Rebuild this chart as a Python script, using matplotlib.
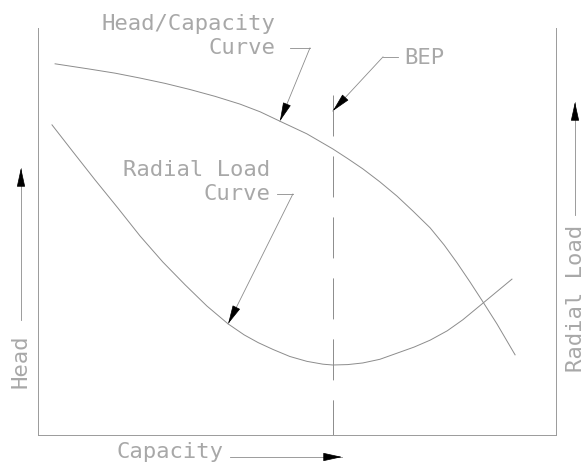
import matplotlib
matplotlib.use("Agg")
import matplotlib.pyplot as plt
from matplotlib.transforms import IdentityTransform

# ---- data (capacity %, value %) ----
head_x = [3.3, 10.0, 14.9, 19.7, 24.5, 29.3, 34.2, 39.0, 42.9, 46.7, 51.9, 56.9, 59.8, 62.7,
          66.0, 69.3, 72.4, 75.7, 78.4, 80.9, 83.4, 85.9, 88.6, 92.1]
head_y = [91.2, 89.9, 88.9, 87.7, 86.4, 84.9, 83.2, 81.3, 79.4, 77.1, 74.0, 70.3, 67.9, 65.4,
          62.2, 58.7, 55.0, 50.9, 46.7, 42.3, 37.6, 32.7, 27.3, 19.7]

radial_x = [2.7, 6.8, 11.0, 15.4, 19.7, 24.1, 28.4, 32.6, 36.7, 39.8, 42.5, 45.4, 48.6, 51.9,
            55.0, 56.9, 59.8, 62.7, 66.0, 69.3, 72.6, 75.7, 79.0, 82.0, 85.9, 91.5]
radial_y = [76.2, 69.5, 62.7, 55.8, 48.9, 42.5, 36.9, 31.7, 27.3, 24.6, 22.7, 21.0, 19.3, 18.1,
            17.4, 17.2, 17.3, 17.7, 18.6, 20.1, 21.6, 23.3, 25.6, 28.3, 32.4, 38.3]

bep_x = 56.9
bep_top = 83.5

labels = {"head": "Head", "capacity": "Capacity", "radial": "Radial Load",
          "hc": "Head/Capacity\nCurve", "rl": "Radial Load\nCurve", "bep": "BEP"}

W, H = 587, 463
fig = plt.figure(figsize=(W / 100, H / 100), dpi=100)
ax = fig.add_axes([38 / W, (H - 435) / H, (556 - 38) / W, (435 - 28) / H])
ax.set_xlim(0, 100)
ax.set_ylim(0, 100)
ax.set_xticks([])
ax.set_yticks([])
ax.spines["top"].set_visible(False)
for s in ("left", "right", "bottom"):
    ax.spines[s].set_color("#9a9a9a")
    ax.spines[s].set_linewidth(0.7)

lc = "#8c8c8c"
tc = "#a8a8a8"
font = dict(family="DejaVu Sans Mono", fontsize=16, color=tc)

ax.plot(head_x, head_y, color=lc, lw=0.7)
ax.plot(radial_x, radial_y, color=lc, lw=0.7)
plt.rcParams["lines.scale_dashes"] = False
ax.plot([bep_x, bep_x], [bep_top, 0], color=lc, lw=0.7, dashes=(29.5, 14.4))

head_style = dict(arrowstyle="-|>,head_length=1.0,head_width=0.22", color="black",
                  lw=0.5, mutation_scale=12, shrinkA=0, shrinkB=0)


def leader(p0, p1, coords="data"):
    """gray stem from p0 to p1 with a black arrowhead at p1"""
    if coords == "data":
        ax.plot([p0[0], p1[0]], [p0[1], p1[1]], color=lc, lw=0.6, clip_on=False)
        d0 = ax.transData.transform(p0)
        d1 = ax.transData.transform(p1)
    else:
        ax.plot([p0[0], p1[0]], [p0[1], p1[1]], color=lc, lw=0.6, clip_on=False,
                transform=IdentityTransform())
        d0, d1 = p0, p1
    v = (d0[0] - d1[0], d0[1] - d1[1])
    n = (v[0] ** 2 + v[1] ** 2) ** 0.5
    start = (d1[0] + v[0] / n * 16, d1[1] + v[1] / n * 16)
    ax.annotate("", xy=(d1[0], d1[1]), xytext=start, xycoords="figure pixels",
                textcoords="figure pixels", arrowprops=head_style,
                annotation_clip=False)


# Head/Capacity leader
ax.plot([48.6, 52.5], [95.1, 95.1], color=lc, lw=0.6, clip_on=False)
leader((52.5, 95.1), (head_x[9], head_y[9]))
# Radial leader
ax.plot([46.1, 49.2], [59.2, 59.2], color=lc, lw=0.6, clip_on=False)
leader((49.2, 59.2), (radial_x[8], radial_y[8]))
# BEP leader
ax.plot([69.5, 66.6], [92.9, 92.9], color=lc, lw=0.6, clip_on=False)
leader((66.6, 92.9), (bep_x, 79.6))

# axis direction arrows (figure pixels)
leader((21, H - 320), (21, H - 168), coords="fig")
leader((230, H - 457), (342, H - 457), coords="fig")
leader((575, H - 215), (575, H - 102), coords="fig")

fig.text(275 / W, (H - 36) / H, labels["hc"], ha="right", va="center",
         linespacing=1.2, **font)
fig.text(270 / W, (H - 182) / H, labels["rl"], ha="right", va="center",
         linespacing=1.2, **font)
fig.text(404 / W, (H - 58) / H, labels["bep"], ha="left", va="center", **font)
fig.text(170 / W, (H - 452) / H, labels["capacity"], ha="center", va="center", **font)
fig.text(20 / W, (H - 361) / H, labels["head"], ha="center", va="center",
         rotation=90, **font)
fig.text(576 / W, (H - 298) / H, labels["radial"], ha="center", va="center",
         rotation=90, **font)

fig.savefig("out.png", dpi=100)
